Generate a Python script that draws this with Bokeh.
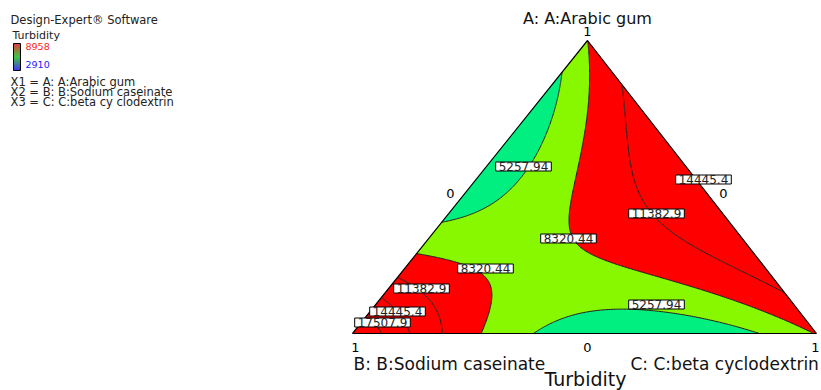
import numpy as np
from bokeh.plotting import figure
from bokeh.models import Range1d
from bokeh.embed import file_html
from bokeh.resources import INLINE
from bokeh.core.properties import value

# ---------------- data (read / estimated from the picture) ----------------
software_note = "Design-Expert\u00ae Software"
response_name = "Turbidity"
response_max_label = "8958"
response_min_label = "2910"
legend_lines = ["X1 = A: A:Arabic gum",
                "X2 = B: B:Sodium caseinate",
                "X3 = C: C:beta cy clodextrin"]
component_labels = ["A: A:Arabic gum", "B: B:Sodium caseinate", "C: C:beta cyclodextrin"]

# Scheffe full-cubic mixture model (coefficients estimated from the contours)
linear_coefs = [8300.0, 21062.0, 8500.0]        # A, B, C
binary_coefs = [-46365.0, 24100.0, -45512.0]    # AB, AC, BC
binary_cubic_coefs = [683.0, -267.0, -1500.0]   # AB(A-B), AC(A-C), BC(B-C)
ternary_coef = 96000.0                          # ABC

contour_levels = [5257.94, 8320.44, 11382.9, 14445.4, 17507.9]
band_bounds = [0.0, 30000.0]

# ---------------- layout / style constants ----------------
FONT = "DejaVu Sans"
VA, VB, VC = (587.0, 40.0), (352.0, 333.0), (816.0, 333.0)   # triangle vertices (page px)
CYAN, LGREEN, RED = "#00ef80", "#88f800", "#ff0000"

def model(a, b, c):
    return (linear_coefs[0] * a + linear_coefs[1] * b + linear_coefs[2] * c
            + binary_coefs[0] * a * b + binary_coefs[1] * a * c + binary_coefs[2] * b * c
            + binary_cubic_coefs[0] * a * b * (a - b)
            + binary_cubic_coefs[1] * a * c * (a - c)
            + binary_cubic_coefs[2] * b * c * (b - c)
            + ternary_coef * a * b * c)

n = 260
s = np.linspace(0.0, 1.0, n)
t = np.linspace(0.0, 1.0, n)
S, T = np.meshgrid(s, t, indexing="ij")
A = 1.0 - S
B = S * (1.0 - T)
C = S * T
X = A * VA[0] + B * VB[0] + C * VC[0]
Y = A * VA[1] + B * VB[1] + C * VC[1]
Z = model(A, B, C)

W, H = 821, 390
p = figure(width=W, height=H, x_range=Range1d(0, W), y_range=Range1d(H, 0),
           output_backend="svg", toolbar_location=None, min_border=0,
           background_fill_color="white", border_fill_color="white")
p.axis.visible = False
p.grid.visible = False
p.outline_line_color = None

levels = [band_bounds[0]] + contour_levels + [band_bounds[1]]
p.contour(x=X, y=Y, z=Z, levels=levels,
          fill_color=[CYAN, LGREEN, RED, RED, RED, RED],
          line_color="#1a1a1a", line_width=1)

# triangle outline
p.patch([VA[0], VB[0], VC[0]], [VA[1], VB[1], VC[1]],
        fill_color=None, line_color="black", line_width=1.2)

# contour labels
label_spots = [(0, 523, 166), (1, 568, 238), (2, 656, 213), (3, 703, 179),
               (0, 656, 304), (1, 485, 268), (2, 421, 288), (3, 397, 311), (4, 382, 322)]
p.text(x=[q[1] for q in label_spots], y=[q[2] for q in label_spots],
       text=[str(contour_levels[q[0]]) for q in label_spots],
       text_font=value(FONT), text_font_size="12px", text_color="#222222",
       text_align="center", text_baseline="middle",
       background_fill_color="white", border_line_color="black", border_line_width=1,
       padding=dict(x=3, y=0))

# vertex / edge tick labels
p.text(x=[587, 450, 723, 587, 355, 815], y=[31, 193, 193, 347, 347, 347],
       text=["1", "0", "0", "0", "1", "1"],
       text_font=value(FONT), text_font_size="13px", text_color="black",
       text_align="center", text_baseline="middle")

# component names
p.text(x=[587], y=[18], text=[component_labels[0]], text_font=value(FONT),
       text_font_size="16px", text_color="#111111", text_align="center", text_baseline="middle")
p.text(x=[353], y=[363], text=[component_labels[1]], text_font=value(FONT),
       text_font_size="17px", text_color="#111111", text_align="left", text_baseline="middle")
p.text(x=[630], y=[363], text=[component_labels[2]], text_font=value(FONT),
       text_font_size="17px", text_color="#111111", text_align="left", text_baseline="middle")
p.text(x=[585], y=[389], text=[response_name], text_font=value(FONT),
       text_font_size="19px", text_color="#111111", text_align="center", text_baseline="bottom")

# top-left info block
p.text(x=[10], y=[19], text=[software_note], text_font=value(FONT), text_font_size="11.5px",
       text_color="#222222", text_align="left", text_baseline="middle")
p.text(x=[12], y=[35], text=[response_name], text_font=value(FONT), text_font_size="11px",
       text_color="#222222", text_align="left", text_baseline="middle")
p.text(x=[10, 10, 10], y=[81, 91, 101], text=legend_lines, text_font=value(FONT),
       text_font_size="11.5px", text_color="#222222", text_align="left", text_baseline="middle")
p.text(x=[25], y=[46], text=[response_max_label], text_font=value(FONT), text_font_size="9.5px",
       text_color="#ff2020", text_align="left", text_baseline="middle")
p.text(x=[25], y=[64], text=[response_min_label], text_font=value(FONT), text_font_size="9.5px",
       text_color="#2020ff", text_align="left", text_baseline="middle")

# gradient colour bar
nb = 27
tops, bots, cols = [], [], []
for i in range(nb):
    f = i / (nb - 1)
    if f < 0.5:
        g = f / 0.5
        r, gg, bb = 210 * (1 - g), 180 * g, 0
    else:
        g = (f - 0.5) / 0.5
        r, gg, bb = 0, 180 * (1 - g), 230 * g
    tops.append(43 + i)
    bots.append(44 + i)
    cols.append("#%02x%02x%02x" % (int(r), int(gg), int(bb)))
p.quad(left=13, right=20, top=tops, bottom=bots, fill_color=cols, line_color=None)
p.quad(left=[13], right=[20], top=[43], bottom=[70], fill_color=None, line_color="black", line_width=1)

open("out.html", "w").write(file_html(p, INLINE))
